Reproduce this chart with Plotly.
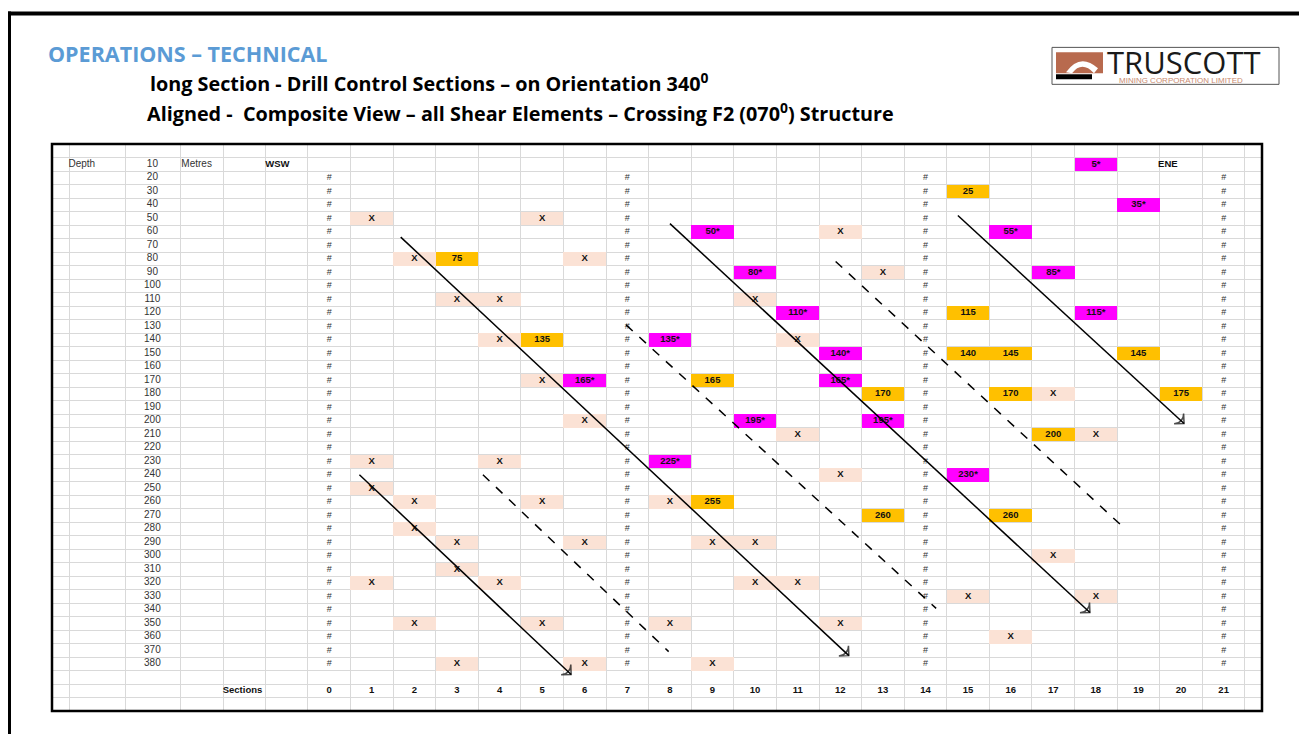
import plotly.graph_objects as go

# ---- values ----
depths = list(range(10, 390, 10))
section_labels = [str(s) for s in range(0, 22)]
section_pos = list(range(0, 22))
hash_sections = [0, 7, 14, 21]
hash_depths = list(range(20, 390, 10))

# plain intercept cells ("X")
x_sec = [1, 5, 12, 2, 6, 13, 3, 4, 10, 4, 11, 5, 17, 6, 11, 18, 1, 4, 12, 1, 2, 5,
         8, 2, 3, 6, 9, 10, 17, 3, 1, 4, 10, 11, 15, 18, 2, 5, 8, 12, 16, 3, 6, 9]
x_dep = [50, 50, 60, 80, 80, 90, 110, 110, 110, 140, 140, 170, 180, 200, 210, 210,
         230, 230, 240, 250, 260, 260, 260, 280, 290, 290, 290, 290, 300, 310, 320,
         320, 320, 320, 330, 330, 350, 350, 350, 350, 360, 380, 380, 380]

# orange intercepts
orange_sec = [15, 3, 15, 5, 15, 16, 19, 9, 13, 16, 20, 17, 9, 13, 16]
orange_dep = [30, 80, 120, 140, 150, 150, 150, 170, 180, 180, 180, 210, 260, 270, 270]
orange_lbl = ['25', '75', '115', '135', '140', '145', '145', '165', '170', '170',
              '175', '200', '255', '260', '260']

# magenta intercepts
mag_sec = [18, 19, 9, 16, 10, 17, 11, 18, 8, 12, 6, 12, 10, 13, 8, 15]
mag_dep = [10, 40, 60, 60, 90, 90, 120, 120, 140, 150, 170, 170, 200, 200, 230, 240]
mag_lbl = ['5*', '35*', '50*', '55*', '80*', '85*', '110*', '115*', '135*', '140*',
           '165*', '165*', '195*', '195*', '225*', '230*']

# shear trend lines (section, depth) start -> end
arrow_s0 = [1.68, 8.00, 14.76, 0.71]
arrow_d0 = [64, 54, 48, 240]
arrow_s1 = [12.20, 17.86, 20.07, 5.68]
arrow_d1 = [374, 342, 202, 388]

dash_s0 = [6.97, 11.89, 3.61]
dash_d0 = [129, 82, 240]
dash_s1 = [14.25, 18.58, 7.97]
dash_d1 = [339, 277, 371]

# ---- page geometry (page pixels; the plot div sits 8px in from the page corner) ----
OFF = 8
W, H = 1307 - OFF, 734 - OFF
PX_L, PX_R, PY_T, PY_B = 52, 1262, 143.75, 711.5
X_RANGE = [-6.507, 21.90]
Y_RANGE = [415, -5]


def px(x):
    return (x - PX_L) / (PX_R - PX_L)


def py(y):
    return (PY_B - y) / (PY_B - PY_T)


PEACH = '#FBE2D5'
ORANGE = '#FFC000'
MAGENTA = '#FF00FF'
SHEET_FONT = 'Liberation Sans, Arial'
CELL_FONT = dict(family=SHEET_FONT, size=9.5, color='#111111', weight='bold')
PLAIN_FONT = dict(family=SHEET_FONT, size=10, color='#333333')

fig = go.Figure()


def cells(secs, deps, color, name):
    fig.add_trace(go.Bar(
        x=secs, y=[10] * len(secs), base=[d - 5 for d in deps],
        width=1.0, marker_color=color, marker_line_width=0,
        name=name, hoverinfo='skip'
    ))


cells(x_sec, x_dep, PEACH, 'X')
cells(orange_sec, orange_dep, ORANGE, 'orange')
cells(mag_sec, mag_dep, MAGENTA, 'magenta')

# cell labels
fig.add_trace(go.Scatter(
    x=x_sec + orange_sec + mag_sec,
    y=x_dep + orange_dep + mag_dep,
    text=['X'] * len(x_sec) + orange_lbl + mag_lbl,
    mode='text', textfont=CELL_FONT, hoverinfo='skip'
))

# '#' columns
hx, hy = [], []
for s in hash_sections:
    for d in hash_depths:
        hx.append(s)
        hy.append(d)
fig.add_trace(go.Scatter(
    x=hx, y=hy, text=['#'] * len(hx), mode='text',
    textfont=dict(family=SHEET_FONT, size=9, color='#333333'),
    hoverinfo='skip'
))

# depth column
fig.add_trace(go.Scatter(
    x=[-4.15] * len(depths), y=depths, text=[str(d) for d in depths], mode='text',
    textfont=PLAIN_FONT, hoverinfo='skip'
))

# section numbers along the bottom
fig.add_trace(go.Scatter(
    x=section_pos, y=[400] * len(section_pos), text=section_labels, mode='text',
    textfont=CELL_FONT, hoverinfo='skip'
))

# header words
fig.add_trace(go.Scatter(
    x=[-6.12, -3.47], y=[10, 10], text=['Depth', 'Metres'], mode='text',
    textposition='middle right', textfont=PLAIN_FONT, hoverinfo='skip'
))
fig.add_trace(go.Scatter(
    x=[-1.50, 19.46, -2.50], y=[10, 10, 400], text=['WSW', 'ENE', 'Sections'], mode='text',
    textposition='middle right', textfont=CELL_FONT, hoverinfo='skip'
))

# trend lines
for i in range(len(arrow_s0)):
    fig.add_trace(go.Scatter(
        x=[arrow_s0[i], arrow_s1[i]], y=[arrow_d0[i], arrow_d1[i]],
        mode='lines+markers', line=dict(color='black', width=1.5),
        marker=dict(symbol=['circle', 'arrow-wide-open'], size=[0, 10], angleref='previous',
                    color='black', line=dict(color='black', width=1.5)),
        hoverinfo='skip'
    ))
for i in range(len(dash_s0)):
    fig.add_trace(go.Scatter(
        x=[dash_s0[i], dash_s1[i]], y=[dash_d0[i], dash_d1[i]],
        mode='lines', line=dict(color='black', width=1.5, dash='dash'),
        hoverinfo='skip'
    ))

grid_x = [-6.10, -4.777, -3.495, -2.486, -1.49] + [s - 0.5 for s in range(0, 23)]

fig.update_layout(
    width=W, height=H,
    margin=dict(l=PX_L - OFF, r=W - (PX_R - OFF), t=PY_T - OFF, b=H - (PY_B - OFF), pad=0),
    paper_bgcolor='white', plot_bgcolor='white',
    showlegend=False, barmode='overlay', bargap=0,
    xaxis=dict(range=X_RANGE, tickvals=grid_x, showticklabels=False, ticks='',
               showgrid=True, gridcolor='#D9D9D9', gridwidth=1, zeroline=False,
               fixedrange=True),
    yaxis=dict(range=Y_RANGE, tickvals=list(range(-5, 420, 10)), showticklabels=False,
               ticks='', showgrid=True, gridcolor='#D9D9D9', gridwidth=1,
               zeroline=False, fixedrange=True),
)

shapes = [
    # sheet border
    dict(type='rect', xref='paper', yref='paper', x0=0, x1=1, y0=0, y1=1,
         line=dict(color='black', width=2.5)),
    # slide frame
    dict(type='line', xref='paper', yref='paper', x0=px(8), x1=px(1310), y0=py(13), y1=py(13),
         line=dict(color='black', width=4)),
    dict(type='line', xref='paper', yref='paper', x0=px(9.5), x1=px(9.5), y0=py(11), y1=py(740),
         line=dict(color='black', width=3)),
    # logo
    dict(type='rect', xref='paper', yref='paper', x0=px(1052), x1=px(1279), y0=py(47), y1=py(84),
         line=dict(color='#555555', width=1), fillcolor='white'),
    dict(type='rect', xref='paper', yref='paper', x0=px(1056), x1=px(1103), y0=py(52), y1=py(73),
         line=dict(width=0), fillcolor='#B86A4E'),
    dict(type='path', xref='paper', yref='paper',
         path='M {} {} Q {} {} {} {} L {} {} Q {} {} {} {} Z'.format(
             px(1066), py(72), px(1080), py(52), px(1098), py(68),
             px(1094), py(73), px(1082), py(60), px(1072), py(73)),
         line=dict(width=0), fillcolor='white'),
    dict(type='rect', xref='paper', yref='paper', x0=px(1056), x1=px(1092), y0=py(74), y1=py(79),
         line=dict(width=0), fillcolor='black'),
]
fig.update_layout(shapes=shapes)

title_font = 'Open Sans, Liberation Sans'
annotations = [
    dict(text='<b>OPERATIONS – TECHNICAL</b>', x=px(46), y=py(53),
         font=dict(family=title_font, size=21.5, color='#5B9BD5')),
    dict(text='<b>long Section - Drill Control Sections – on Orientation 340<sup>0</sup></b>',
         x=px(148), y=py(82), font=dict(family=title_font, size=19.8, color='black')),
    dict(text='<b>Aligned -  Composite View – all Shear Elements – Crossing F2 (070<sup>0</sup>) Structure</b>',
         x=px(145), y=py(112), font=dict(family=title_font, size=19.8, color='black')),
    dict(text='TRUSCOTT', x=px(1105), y=py(61.5),
         font=dict(family=title_font, size=31, color='#1a1a1a')),
    dict(text='MINING CORPORATION LIMITED', x=px(1117), y=py(80),
         font=dict(family=SHEET_FONT, size=8, color='#C98A70')),
]
for a in annotations:
    a.update(xref='paper', yref='paper', xanchor='left', yanchor='middle',
             showarrow=False)
fig.update_layout(annotations=annotations)

fig.write_html("out.html")
